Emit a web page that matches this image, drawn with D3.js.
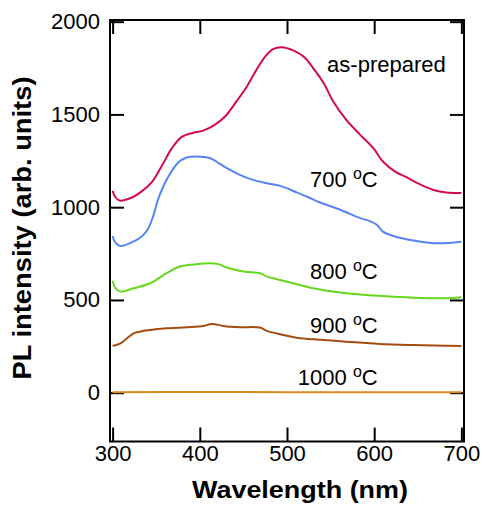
<!DOCTYPE html>
<html>
<head>
<meta charset="utf-8">
<script src="https://cdn.jsdelivr.net/npm/d3@7/dist/d3.min.js"></script>
<style>
  body { margin: 0; background: #fff; }
  text { font-family: "Liberation Sans", Arial, Helvetica, sans-serif; fill: #000; }
</style>
</head>
<body>
<div id="chart"></div>
<script>
// readings
const asPreparedWl = [300, 303, 308, 320, 333, 345, 356, 368, 379, 391, 404, 417, 429, 442, 454, 465, 475, 484, 494, 507, 519, 530, 542, 553, 568, 584, 599, 610, 624, 637, 652, 668, 683, 698, 700];
const asPreparedPL = [1088, 1055, 1036, 1048, 1084, 1135, 1219, 1318, 1378, 1399, 1413, 1444, 1489, 1570, 1651, 1741, 1812, 1852, 1862, 1845, 1812, 1750, 1669, 1570, 1471, 1390, 1318, 1246, 1192, 1162, 1124, 1093, 1079, 1076, 1076];

const t700Wl = [300, 303, 309, 320, 333, 340, 346, 352, 358, 364, 375, 385, 396, 412, 419, 431, 446, 461, 477, 494, 511, 524, 538, 561, 584, 595, 603, 610, 622, 645, 668, 690, 700];
const t700PL = [845, 810, 791, 806, 841, 878, 945, 1040, 1110, 1165, 1240, 1268, 1273, 1264, 1246, 1210, 1174, 1147, 1129, 1112, 1080, 1055, 1025, 986, 941, 925, 905, 868, 845, 820, 806, 809, 814];

const t800Wl = [300, 303, 309, 324, 343, 362, 377, 396, 412, 421, 431, 450, 469, 477, 492, 515, 530, 568, 606, 645, 683, 700];
const t800PL = [604, 565, 545, 563, 590, 644, 680, 693, 698, 693, 675, 653, 644, 626, 608, 581, 563, 536, 522, 512, 509, 515];

const t900Wl = [300, 309, 324, 331, 343, 362, 385, 404, 414, 427, 446, 469, 477, 496, 515, 530, 568, 606, 645, 700];
const t900PL = [252, 266, 320, 329, 338, 347, 353, 360, 371, 360, 353, 351, 333, 311, 293, 288, 275, 263, 257, 252];

const t1000Wl = [300, 400, 500, 600, 700];
const t1000PL = [3, 4, 3, 3, 2];

const seriesNames = ["as-prepared", "700", "800", "900", "1000"];
const xTicks = [300, 400, 500, 600, 700];
const yTicks = [0, 500, 1000, 1500, 2000];

// where each curve label sits, in data units
const labelWl = [546, 604, 604, 604, 604];
const labelPL = [1731, 1111, 612, 324, 42];

const width = 483;
const height = 506;
const colors = ["#d40a50", "#5585f5", "#66d81e", "#a44c0e", "#d98b1c"];

const seriesWl = [asPreparedWl, t700Wl, t800Wl, t900Wl, t1000Wl];
const seriesPL = [asPreparedPL, t700PL, t800PL, t900PL, t1000PL];
const series = seriesNames.map((name, i) => ({
  name,
  color: colors[i],
  points: seriesWl[i].map((w, j) => [w, seriesPL[i][j]]),
}));

const plot = { left: 110, right: 464, top: 20, bottom: 441.5 };

const x = d3.scaleLinear().domain([297, 703]).range([plot.left, plot.right]);
const y = d3.scaleLinear().domain([-263, 2009]).range([plot.bottom, plot.top]);

const svg = d3.select("#chart").append("svg")
  .attr("width", width)
  .attr("height", height);

const tickLen = 14;

function styleAxis(g) {
  g.select(".domain").remove();
  g.selectAll(".tick line").attr("stroke", "#000").attr("stroke-width", 2);
  g.selectAll(".tick text").style("font-size", "22px").attr("fill", "#000");
}

svg.append("g")
  .attr("transform", `translate(0,${plot.bottom})`)
  .call(d3.axisBottom(x).tickValues(xTicks).tickSize(-tickLen).tickPadding(4).tickFormat(d3.format("d")))
  .call(styleAxis);

svg.append("g")
  .attr("transform", `translate(0,${plot.top})`)
  .call(d3.axisTop(x).tickValues(xTicks).tickSize(-tickLen).tickFormat(""))
  .call(styleAxis);

svg.append("g")
  .attr("transform", `translate(${plot.left},0)`)
  .call(d3.axisLeft(y).tickValues(yTicks).tickSize(-tickLen).tickPadding(10).tickFormat(d3.format("d")))
  .call(styleAxis);

svg.append("g")
  .attr("transform", `translate(${plot.right},0)`)
  .call(d3.axisRight(y).tickValues(yTicks).tickSize(-tickLen).tickFormat(""))
  .call(styleAxis);

// frame
svg.append("rect")
  .attr("x", plot.left)
  .attr("y", plot.top)
  .attr("width", plot.right - plot.left)
  .attr("height", plot.bottom - plot.top)
  .attr("fill", "none")
  .attr("stroke", "#000")
  .attr("stroke-width", 2);

const line = d3.line()
  .x((d) => x(d[0]))
  .y((d) => y(d[1]))
  .curve(d3.curveCatmullRom.alpha(0.5));

svg.append("g")
  .selectAll("path")
  .data(series)
  .join("path")
  .attr("d", (d) => line(d.points))
  .attr("fill", "none")
  .attr("stroke", (d) => d.color)
  .attr("stroke-width", 2);

// curve labels
const labels = svg.append("g");
series.forEach((s, i) => {
  const t = labels.append("text")
    .attr("x", x(labelWl[i]))
    .attr("y", y(labelPL[i]))
    .style("font-size", "22px");
  if (i === 0) {
    t.attr("text-anchor", "start").text(s.name);
  } else {
    t.attr("text-anchor", "end");
    t.append("tspan").text(`${s.name} `);
    t.append("tspan").attr("dy", -8).style("font-size", "16px").text("o");
    t.append("tspan").attr("dy", 8).text("C");
  }
});

// axis titles
svg.append("text")
  .attr("x", 300)
  .attr("y", 498)
  .attr("text-anchor", "middle")
  .attr("textLength", 216)
  .attr("lengthAdjust", "spacingAndGlyphs")
  .style("font-size", "24px")
  .style("font-weight", "bold")
  .text("Wavelength (nm)");

svg.append("text")
  .attr("transform", "translate(31,228) rotate(-90)")
  .attr("text-anchor", "middle")
  .attr("textLength", 303)
  .attr("lengthAdjust", "spacingAndGlyphs")
  .style("font-size", "25px")
  .style("font-weight", "bold")
  .text("PL intensity (arb. units)");
</script>
</body>
</html>
